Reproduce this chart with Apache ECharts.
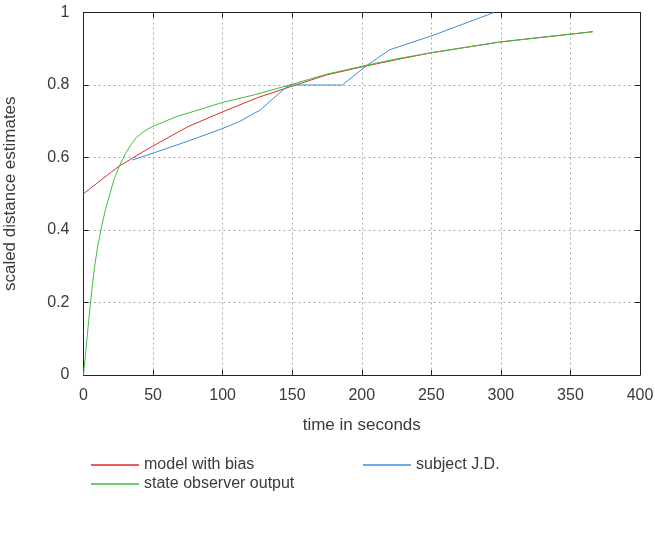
<!DOCTYPE html>
<html>
<head>
<meta charset="utf-8">
<script src="https://cdn.jsdelivr.net/npm/echarts@6/dist/echarts.min.js"></script>
<style>
  html, body { margin: 0; padding: 0; background: #fff; }
  #chart { width: 655px; height: 542px; }
</style>
</head>
<body>
<div id="chart"></div>
<script>
// values
const modelX = [0, 10, 20, 26, 35, 50, 75, 100, 125, 150, 175, 200, 225, 250, 300, 366]
const modelY = [0.50, 0.53, 0.56, 0.577, 0.598, 0.632, 0.685, 0.726, 0.765, 0.797, 0.828, 0.85, 0.87, 0.889, 0.919, 0.947]

const observerX = [0, 2, 4, 6, 8, 10, 13, 16, 19, 22, 26, 30, 34, 38, 42, 46, 50, 60, 67, 80, 100, 122, 150, 175, 204, 225, 250, 300, 340, 366]
const observerY = [0, 0.08, 0.16, 0.235, 0.3, 0.35, 0.41, 0.46, 0.5, 0.54, 0.578, 0.61, 0.635, 0.655, 0.668, 0.678, 0.686, 0.702, 0.713, 0.728, 0.752, 0.772, 0.802, 0.83, 0.855, 0.872, 0.889, 0.919, 0.936, 0.947]

const subjectX = [35, 50, 75, 100, 112, 127, 146, 150, 186, 204, 220, 252, 295]
const subjectY = [0.593, 0.612, 0.645, 0.68, 0.699, 0.731, 0.795, 0.80, 0.80, 0.855, 0.897, 0.938, 1.0]

const seriesNames = ['model with bias', 'subject J.D.', 'state observer output']

const zip = (xs, ys) => xs.map((x, i) => [x, ys[i]])

const font = '"Liberation Sans", Arial, sans-serif'
const textColor = '#3a3a3a'
const frame = { show: true, onZero: false, lineStyle: { color: '#222', width: 1 } }
const innerTick = { show: true, inside: true, length: 5, lineStyle: { color: '#222' } }
const legendText = { fontFamily: font, fontSize: 16, color: textColor, lineHeight: 16 }

const myChart = echarts.init(document.getElementById('chart'))

myChart.setOption({
  animation: false,
  textStyle: { fontFamily: font },
  grid: { left: 83.5, right: 15, top: 12.5, bottom: 167, outerBoundsMode: 'none', containLabel: false },
  legend: [
    {
      data: ['model with bias', 'state observer output'],
      orient: 'vertical',
      left: 86, top: 452,
      icon: 'rect', itemWidth: 48, itemHeight: 1.5, itemGap: 3,
      textStyle: legendText
    },
    {
      data: ['subject J.D.'],
      orient: 'vertical',
      left: 358, top: 452,
      icon: 'rect', itemWidth: 48, itemHeight: 1.5, itemGap: 3,
      textStyle: legendText
    }
  ],
  xAxis: [
    {
      type: 'value', min: 0, max: 400, interval: 50,
      name: 'time in seconds', nameLocation: 'middle', nameGap: 42,
      nameTextStyle: { fontFamily: font, fontSize: 17, color: textColor },
      axisLine: frame, axisTick: innerTick,
      axisLabel: { fontFamily: font, fontSize: 16, color: textColor, margin: 13 },
      splitLine: { show: true, lineStyle: { color: '#aaa', type: [2, 3] } }
    },
    {
      type: 'value', min: 0, max: 400, interval: 50, position: 'top',
      axisLine: frame, axisTick: innerTick, axisLabel: { show: false }, splitLine: { show: false }
    }
  ],
  yAxis: [
    {
      type: 'value', min: 0, max: 1, interval: 0.2,
      name: 'scaled distance estimates', nameLocation: 'middle', nameGap: 65,
      nameTextStyle: { fontFamily: font, fontSize: 17, color: textColor },
      axisLine: frame, axisTick: innerTick,
      axisLabel: { fontFamily: font, fontSize: 16, color: textColor, margin: 14 },
      splitLine: { show: true, lineStyle: { color: '#aaa', type: [2, 3] } }
    },
    {
      type: 'value', min: 0, max: 1, interval: 0.2, position: 'right',
      axisLine: frame, axisTick: innerTick, axisLabel: { show: false }, splitLine: { show: false }
    }
  ],
  series: [
    {
      name: seriesNames[0], type: 'line', showSymbol: false, color: '#e02a2a',
      lineStyle: { width: 1 }, data: zip(modelX, modelY)
    },
    {
      name: seriesNames[1], type: 'line', showSymbol: false, color: '#3b8fd6',
      lineStyle: { width: 1 }, data: zip(subjectX, subjectY)
    },
    {
      name: seriesNames[2], type: 'line', showSymbol: false, color: '#3cbf3c',
      lineStyle: { width: 1 }, data: zip(observerX, observerY)
    }
  ]
})
</script>
</body>
</html>
